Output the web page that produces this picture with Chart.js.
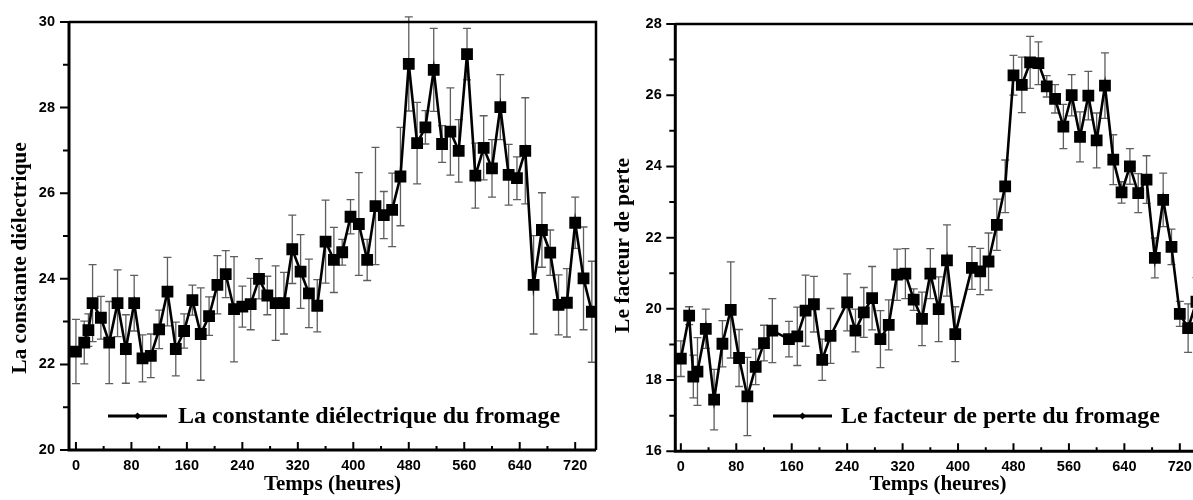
<!DOCTYPE html>
<html>
<head>
<meta charset="utf-8">
<script src="https://cdn.jsdelivr.net/npm/chart.js@4.4.1/dist/chart.umd.min.js"></script>
<style>
  html, body { margin: 0; padding: 0; background: #fff; overflow: hidden; }
  #wrap { position: relative; width: 1193px; height: 500px; overflow: hidden; }
  .box { position: absolute; top: 0; height: 500px; }
</style>
</head>
<body>
<div id="wrap">
  <div class="box" style="left:0;width:600px"><canvas id="c1" width="600" height="500"></canvas></div>
  <div class="box" style="left:600px;width:604px"><canvas id="c2" width="604" height="500"></canvas></div>
</div>
<script>
// shared x axis
const xTicks = [0, 80, 160, 240, 320, 400, 480, 560, 640, 720];
const xMinor = [40, 120, 200, 280, 360, 440, 520, 600, 680];

// left chart : dielectric constant
const hours1 = [0, 12, 18, 24, 36, 48, 60, 72, 84, 96, 108, 120, 132, 144, 156, 168, 180, 192, 204, 216,
  228, 240, 252, 264, 276, 288, 300, 312, 324, 336, 348, 360, 372, 384, 396, 408, 420, 432, 444, 456,
  468, 480, 492, 504, 516, 528, 540, 552, 564, 576, 588, 600, 612, 624, 636, 648, 660, 672, 684, 696,
  708, 720, 732, 744];
const constante = [22.30, 22.51, 22.80, 23.43, 23.09, 22.51, 23.43, 22.36, 23.43, 22.14, 22.20, 22.82, 23.70, 22.36, 22.78, 23.50, 22.71, 23.13, 23.86, 24.11,
  23.29, 23.35, 23.41, 24.00, 23.61, 23.43, 23.43, 24.69, 24.17, 23.66, 23.37, 24.87, 24.44, 24.62, 25.45, 25.28, 24.44, 25.70, 25.49, 25.61,
  26.39, 29.02, 27.17, 27.54, 28.88, 27.15, 27.44, 26.99, 29.25, 26.41, 27.06, 26.58, 28.01, 26.43, 26.35, 26.99, 23.86, 25.14, 24.61, 23.39,
  23.44, 25.31, 24.01, 23.23];
const constanteErr = [0.75, 0.50, 0.38, 0.90, 0.50, 0.96, 0.78, 0.80, 0.65, 0.55, 0.51, 0.45, 0.80, 0.63, 0.40, 0.35, 1.08, 0.45, 0.68, 0.55,
  1.23, 0.48, 0.60, 0.47, 0.45, 0.87, 0.72, 0.80, 0.86, 0.80, 0.61, 0.97, 0.76, 0.30, 0.40, 1.20, 0.48, 1.37, 0.55, 0.86,
  1.15, 1.10, 0.95, 0.39, 0.97, 0.43, 1.02, 0.73, 0.60, 0.76, 0.75, 0.67, 0.76, 0.71, 0.50, 1.24, 1.15, 0.87, 0.53, 0.70,
  0.80, 0.60, 1.20, 1.18];
const yTicks1 = [20, 22, 24, 26, 28, 30];
const yMinor1 = [21, 23, 25, 27, 29];

// right chart : loss factor
const hours2 = [0, 12, 18, 24, 36, 48, 60, 72, 84, 96, 108, 120, 132, 156, 168, 180, 192, 204, 216,
  240, 252, 264, 276, 288, 300, 312, 324, 336, 348, 360, 372, 384, 396,
  420, 432, 444, 456, 468, 480, 492, 504, 516, 528, 540, 552, 564, 576, 588, 600, 612, 624, 636, 648,
  660, 672, 684, 696, 708, 720, 732, 744];
const perte = [18.60, 19.81, 18.10, 18.24, 19.44, 17.45, 19.02, 19.97, 18.62, 17.54, 18.37, 19.04, 19.39, 19.15, 19.23, 19.95, 20.13, 18.57, 19.24,
  20.18, 19.39, 19.90, 20.30, 19.15, 19.55, 20.96, 20.99, 20.26, 19.72, 20.99, 19.99, 21.36, 19.29,
  21.15, 21.05, 21.33, 22.36, 23.44, 26.56, 26.29, 26.92, 26.90, 26.25, 25.90, 25.12, 26.00, 24.83, 25.99, 24.73, 26.27, 24.19, 23.27, 24.00,
  23.25, 23.63, 21.43, 23.06, 21.74, 19.86, 19.46, 20.20];
const perteErr = [0.50, 0.25, 0.60, 0.95, 0.55, 0.85, 0.65, 1.35, 0.80, 1.10, 0.50, 0.50, 0.90, 0.50, 0.82, 1.00, 0.78, 0.58, 0.77,
  0.80, 0.60, 0.70, 0.89, 0.80, 0.70, 0.72, 0.70, 0.30, 0.75, 0.70, 0.91, 1.00, 0.77,
  0.60, 0.65, 0.80, 0.72, 0.74, 0.56, 0.78, 0.73, 0.60, 0.30, 0.40, 0.62, 0.58, 0.70, 0.68, 0.77, 0.92, 0.70, 0.30, 0.50,
  0.55, 0.67, 0.56, 0.75, 0.50, 0.35, 0.68, 0.68];
const yTicks2 = [16, 18, 20, 22, 24, 26, 28];
const yMinor2 = [17, 19, 21, 23, 25, 27];

const tickFont = { family: "'Liberation Sans', Arial, sans-serif", size: 14.5, weight: 'bold' };
const serif = "'Liberation Serif', 'Times New Roman', serif";

// error bars, frame, ticks, y title and the in-plot legend
const decor = {
  id: 'decor',
  beforeDatasetsDraw(chart, args, o) {
    const { ctx, scales: { x, y } } = chart;
    ctx.save();
    ctx.strokeStyle = '#5e5e5e';
    ctx.lineWidth = 1.3;
    o.hours.forEach((h, i) => {
      const px = x.getPixelForValue(h);
      const top = y.getPixelForValue(o.values[i] + o.errs[i]);
      const bot = y.getPixelForValue(o.values[i] - o.errs[i]);
      ctx.beginPath();
      ctx.moveTo(px, top); ctx.lineTo(px, bot);
      ctx.moveTo(px - 4, top); ctx.lineTo(px + 4, top);
      ctx.moveTo(px - 4, bot); ctx.lineTo(px + 4, bot);
      ctx.stroke();
    });
    ctx.restore();
  },
  afterDraw(chart, args, o) {
    const { ctx, chartArea: a, scales: { x, y } } = chart;
    ctx.save();
    ctx.strokeStyle = '#000';
    ctx.lineCap = 'butt';
    // frame
    ctx.lineWidth = 2.5;
    ctx.beginPath();
    ctx.moveTo(a.left, a.top); ctx.lineTo(a.right, a.top); ctx.lineTo(a.right, a.bottom);
    ctx.stroke();
    ctx.lineWidth = 3;
    ctx.beginPath();
    ctx.moveTo(a.left, a.top - 1); ctx.lineTo(a.left, a.bottom); ctx.lineTo(a.right, a.bottom);
    ctx.stroke();
    // ticks
    ctx.lineWidth = 2;
    ctx.beginPath();
    o.yTicks.forEach(v => { const p = y.getPixelForValue(v); ctx.moveTo(a.left - 9, p); ctx.lineTo(a.left, p); });
    o.yMinor.forEach(v => { const p = y.getPixelForValue(v); ctx.moveTo(a.left - 6, p); ctx.lineTo(a.left, p); });
    xTicks.forEach(v => { const p = x.getPixelForValue(v); ctx.moveTo(p, a.bottom); ctx.lineTo(p, a.bottom - 8); });
    xMinor.forEach(v => { const p = x.getPixelForValue(v); ctx.moveTo(p, a.bottom); ctx.lineTo(p, a.bottom - 4); });
    ctx.stroke();
    // y title
    ctx.fillStyle = '#000';
    ctx.font = 'bold 21.5px ' + serif;
    ctx.textAlign = 'center';
    ctx.textBaseline = 'middle';
    ctx.save();
    ctx.translate(o.yTitle.x, o.yTitle.y);
    ctx.rotate(-Math.PI / 2);
    ctx.fillText(o.yTitle.text, 0, 0);
    ctx.restore();
    // legend
    const L = o.legend;
    ctx.lineWidth = 3;
    ctx.beginPath();
    ctx.moveTo(L.x1, L.y); ctx.lineTo(L.x2, L.y);
    ctx.stroke();
    const mx = (L.x1 + L.x2) / 2;
    ctx.beginPath();
    ctx.moveTo(mx, L.y - 3.5); ctx.lineTo(mx + 3.5, L.y); ctx.lineTo(mx, L.y + 3.5); ctx.lineTo(mx - 3.5, L.y);
    ctx.closePath();
    ctx.fill();
    ctx.font = 'bold 24px ' + serif;
    ctx.textAlign = 'left';
    ctx.fillText(chart.data.datasets[0].label, L.tx, L.y + 1);
    ctx.restore();
  }
};

function makeChart(id, c) {
  return new Chart(document.getElementById(id), {
    type: 'line',
    data: {
      datasets: [{
        label: c.label,
        data: c.hours.map((h, i) => ({ x: h, y: c.values[i] })),
        borderColor: '#000',
        backgroundColor: '#000',
        borderWidth: 2.6,
        pointStyle: 'rect',
        pointRadius: 6.5,
        pointHoverRadius: 6.5,
        tension: 0
      }]
    },
    options: {
      responsive: false,
      animation: false,
      events: [],
      layout: { autoPadding: false, padding: { top: c.padTop, right: c.padRight, left: 0, bottom: 0 } },
      plugins: {
        legend: { display: false },
        tooltip: { enabled: false },
        decor: {
          hours: c.hours, values: c.values, errs: c.errs,
          yTicks: c.yTicks, yMinor: c.yMinor, legend: c.legend, yTitle: c.yTitle
        }
      },
      scales: {
        x: {
          type: 'linear',
          min: c.xMin, max: c.xMax,
          afterBuildTicks: s => { s.ticks = xTicks.map(v => ({ value: v })); },
          afterFit: s => { s.height = c.xHeight; s.paddingLeft = 0; s.paddingRight = 0; },
          grid: { display: false, drawTicks: false },
          border: { display: false },
          ticks: { font: tickFont, color: '#000', padding: 7, maxRotation: 0, autoSkip: false },
          title: {
            display: true, text: 'Temps (heures)', color: '#000',
            font: { family: serif, size: 21, weight: 'bold' },
            padding: { top: 0, bottom: 2.5 }
          }
        },
        y: {
          min: c.yMin, max: c.yMax,
          afterBuildTicks: s => { s.ticks = c.yTicks.map(v => ({ value: v })); },
          afterFit: s => { s.width = c.yWidth; s.paddingTop = 0; s.paddingBottom = 0; },
          grid: { display: false, drawTicks: false },
          border: { display: false },
          ticks: { font: tickFont, color: '#000', padding: c.yPad }
        }
      }
    },
    plugins: [decor]
  });
}

makeChart('c1', {
  label: 'La constante diélectrique du fromage',
  hours: hours1, values: constante, errs: constanteErr,
  yMin: 20, yMax: 30, yTicks: yTicks1, yMinor: yMinor1,
  yTitle: { text: 'La constante diélectrique', x: 20, y: 258 },
  xMin: -10, xMax: 750,
  padTop: 22, padRight: 4, yWidth: 69, xHeight: 50, yPad: 14,
  legend: { x1: 108, x2: 167, y: 416, tx: 178 }
});

makeChart('c2', {
  label: 'Le facteur de perte du fromage',
  hours: hours2, values: perte, errs: perteErr,
  yMin: 16, yMax: 28, yTicks: yTicks2, yMinor: yMinor2,
  yTitle: { text: 'Le facteur de perte', x: 23, y: 245.5 },
  xMin: -8, xMax: 750,
  padTop: 24, padRight: 3.4, yWidth: 75.3, xHeight: 48.7, yPad: 13.6,
  legend: { x1: 173, x2: 232, y: 416, tx: 241 }
});
</script>
</body>
</html>
